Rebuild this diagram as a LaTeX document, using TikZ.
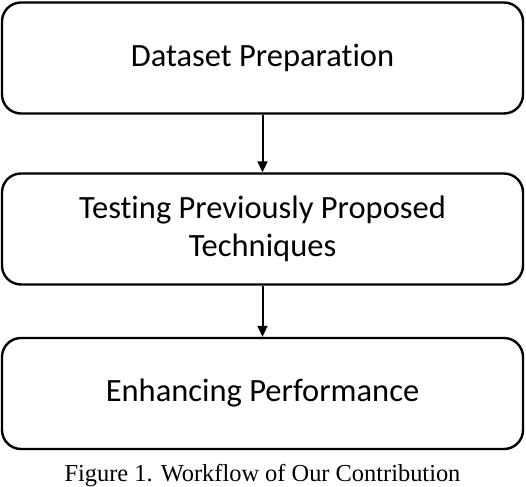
\documentclass[tikz,border=0pt]{standalone}
\usepackage{fontspec}
\setmainfont{Liberation Serif}
\newfontfamily\boxfont[Ligatures=NoCommon]{Carlito}
\usetikzlibrary{arrows.meta}
\begin{document}
\begin{tikzpicture}[x=1pt,y=-1pt,
  stepbox/.style={draw=black, line width=2.4pt, rounded corners=19pt,
    minimum width=521pt, minimum height=111pt, inner sep=0pt,
    align=center, font=\boxfont\fontsize{32.5}{38}\selectfont},
  flowarrow/.style={line width=2pt, -{Triangle[length=11pt,width=10pt]}}]
\useasboundingbox (0,0) rectangle (526,486);
\node[stepbox] (b1) at (262.5,58) {Dataset Preparation};
\node[stepbox] (b2) at (262.5,229) {Testing Previously Proposed\\Techniques};
\node[stepbox] (b3) at (262.5,393.5) {Enhancing Performance};
\draw[flowarrow] (b1.south) -- (b2.north);
\draw[flowarrow] (b2.south) -- (b3.north);
\node[font=\fontsize{24.4}{28}\selectfont, inner sep=0pt, anchor=base] (cap) at (262.5,481) {Figure 1. Workflow of Our Contribution};
\end{tikzpicture}
\end{document}
